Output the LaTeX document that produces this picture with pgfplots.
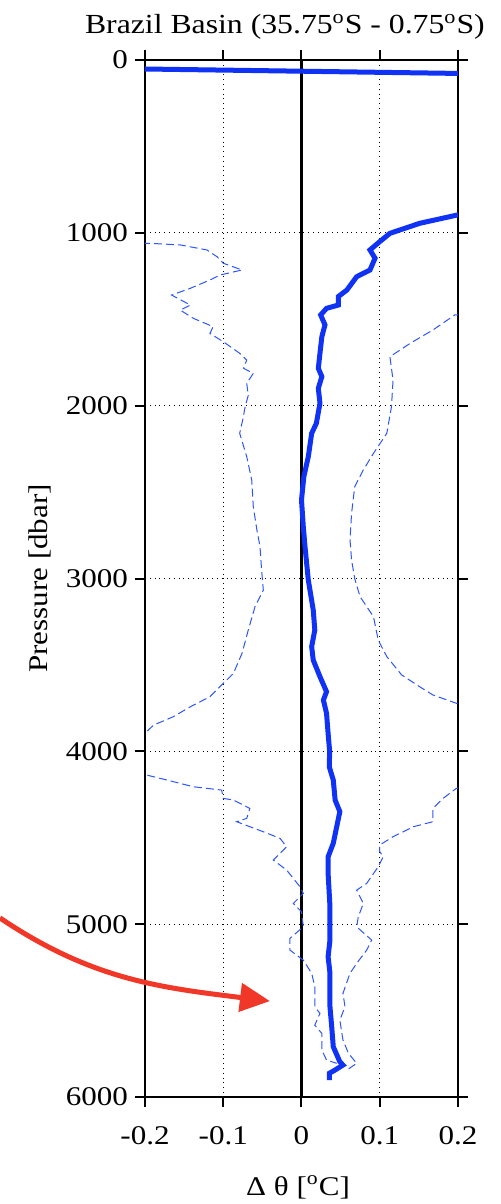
\documentclass[border=0pt]{standalone}
\usepackage{fontspec}
\setmainfont{Liberation Serif}[FakeStretch=1.15]
\usepackage{pgfplots}
\pgfplotsset{compat=1.18}
\usetikzlibrary{arrows.meta}
\definecolor{prof}{RGB}{15,50,245}
\definecolor{band}{RGB}{45,85,250}
\definecolor{arrowred}{RGB}{240,55,40}
\newcommand{\fs}{\fontsize{13.5pt}{16pt}\selectfont}

\begin{document}
\begin{tikzpicture}
\begin{axis}[
  scale only axis, width=156.5pt, height=518.5pt,
  xmin=-0.2, xmax=0.2, ymin=0, ymax=6000, y dir=reverse,
  xtick={-0.2,-0.1,0,0.1,0.2}, xticklabels={-0.2,-0.1,0,0.1,0.2},
  ytick={0,1000,2000,3000,4000,5000,6000},
  yticklabels={0,1000,2000,3000,4000,5000,6000},
  tick align=outside, major tick length=5pt,
  grid=major, major grid style={dotted, black, line width=0.4pt},
  axis line style={line width=1pt},
  every tick/.style={black, line width=1pt},
  clip mode=individual,
  ticklabel style={font=\fs},
  xticklabel style={yshift=-6pt},
  title={Brazil Basin (35.75\textsuperscript{o}S - 0.75\textsuperscript{o}S)},
  title style={at={(axis description cs:0.447,1)}, anchor=base, yshift=7pt,
    font=\fontsize{13.8pt}{16pt}\selectfont},
  xlabel={Δ θ [\textsuperscript{o}C]},
  xlabel style={at={(axis description cs:0.489,-0.0945)}, anchor=base, font=\fs},
  ylabel={Pressure [dbar]},
  ylabel style={at={(axis description cs:-0.335,0.5)}, anchor=center, font=\fs},
]
% zero line
\addplot[black, line width=1.6pt] coordinates {(0,0) (0,6000)};
% lower bound
\addplot[band, line width=0.5pt, dash pattern=on 4pt off 2pt] coordinates {
(-0.25,1058) (-0.193,1061) (-0.155,1070) (-0.121,1099) (-0.108,1138) (-0.100,1176)
(-0.076,1215) (-0.104,1244) (-0.117,1273) (-0.142,1321) (-0.166,1360) (-0.142,1418)
(-0.155,1447) (-0.138,1495) (-0.113,1543) (-0.117,1582) (-0.100,1630) (-0.079,1697)
(-0.070,1736) (-0.074,1784) (-0.0616,1813) (-0.070,1871) (-0.068,1940) (-0.072,2006)
(-0.075,2080) (-0.079,2160) (-0.070,2295) (-0.0636,2430) (-0.0616,2585) (-0.057,2719)
(-0.053,2816) (-0.051,2950) (-0.0488,3067) (-0.0594,3163) (-0.068,3298) (-0.076,3433)
(-0.087,3549) (-0.100,3607) (-0.117,3684) (-0.142,3742) (-0.164,3800) (-0.189,3848)
(-0.198,3886) (-0.22,3900) (-0.22,4130) (-0.198,4137) (-0.172,4166) (-0.138,4205)
(-0.102,4224) (-0.100,4272) (-0.087,4282) (-0.066,4330) (-0.070,4388) (-0.083,4407)
(-0.049,4465) (-0.0275,4503) (-0.019,4552) (-0.036,4629) (-0.019,4687) (-0.002,4783)
(0.0023,4822) (-0.0105,4880) (0.0,4928) (0.0023,5015) (-0.0147,5082) (-0.0147,5150)
(0.0023,5208) (0.013,5284) (0.017,5362) (0.017,5478) (0.0236,5516) (0.017,5584)
(0.026,5632) (0.026,5728) (0.032,5786) (0.045,5805)};
% upper bound
\addplot[band, line width=0.5pt, dash pattern=on 4pt off 2pt] coordinates {
(0.25,1460) (0.196,1475) (0.168,1562) (0.139,1639) (0.113,1717) (0.117,1852)
(0.115,2006) (0.109,2160) (0.092,2276) (0.079,2372) (0.068,2469) (0.064,2623)
(0.062,2777) (0.064,2893) (0.068,3000) (0.0748,3105) (0.092,3221) (0.098,3356)
(0.109,3452) (0.128,3558) (0.151,3626) (0.168,3674) (0.198,3722) (0.22,3730)
(0.22,4205) (0.198,4214) (0.181,4272) (0.168,4330) (0.168,4407) (0.143,4436)
(0.117,4494) (0.100,4542) (0.100,4580) (0.1045,4610) (0.098,4668) (0.0833,4764)
(0.0705,4803) (0.079,4880) (0.0726,4957) (0.0705,5015) (0.0897,5092) (0.0833,5150)
(0.0705,5227) (0.062,5284) (0.053,5400) (0.0556,5478) (0.049,5555) (0.053,5670)
(0.060,5747) (0.0705,5805) (0.058,5844)};
% mean difference
\addplot[prof, line width=2.5pt] coordinates {
(-0.25,49) (0.25,81) (0.25,880) (0.199,897) (0.151,945) (0.113,1003) (0.100,1051)
(0.0875,1099) (0.094,1147) (0.0875,1215) (0.0705,1254) (0.058,1331) (0.047,1369)
(0.047,1418) (0.032,1437) (0.0245,1475) (0.030,1533) (0.026,1601) (0.0236,1697)
(0.0215,1784) (0.026,1832) (0.0215,1900) (0.0236,1986) (0.019,2102) (0.013,2160)
(0.0087,2295) (0.003,2411) (0.0,2546) (0.0023,2700) (0.0045,2816) (0.0087,3009)
(0.015,3182) (0.017,3298) (0.013,3394) (0.015,3472) (0.0236,3568) (0.032,3655)
(0.028,3703) (0.032,3780) (0.034,3896) (0.036,4002) (0.0355,4089) (0.0406,4166)
(0.043,4282) (0.049,4349) (0.045,4436) (0.0406,4532) (0.034,4610) (0.034,4706)
(0.0364,4899) (0.0364,5092) (0.034,5188) (0.0364,5284) (0.0364,5478) (0.0386,5593)
(0.0406,5709) (0.049,5796) (0.053,5815) (0.0428,5844) (0.0355,5863) (0.0355,5902)};
% annotation arrow
\draw[arrowred, line width=2.5pt, -{Triangle[length=15pt,width=14pt]}]
  (axis cs:-0.3853,4964) to[out=-34,in=173] (axis cs:-0.0403,5445);
\coordinate (bbA) at (axis cs:-0.3853,-347);
\coordinate (bbB) at (axis cs:0.2537,6619);
\end{axis}
\pgfresetboundingbox
\path[use as bounding box] (bbA) rectangle (bbB);
\end{tikzpicture}
\end{document}
